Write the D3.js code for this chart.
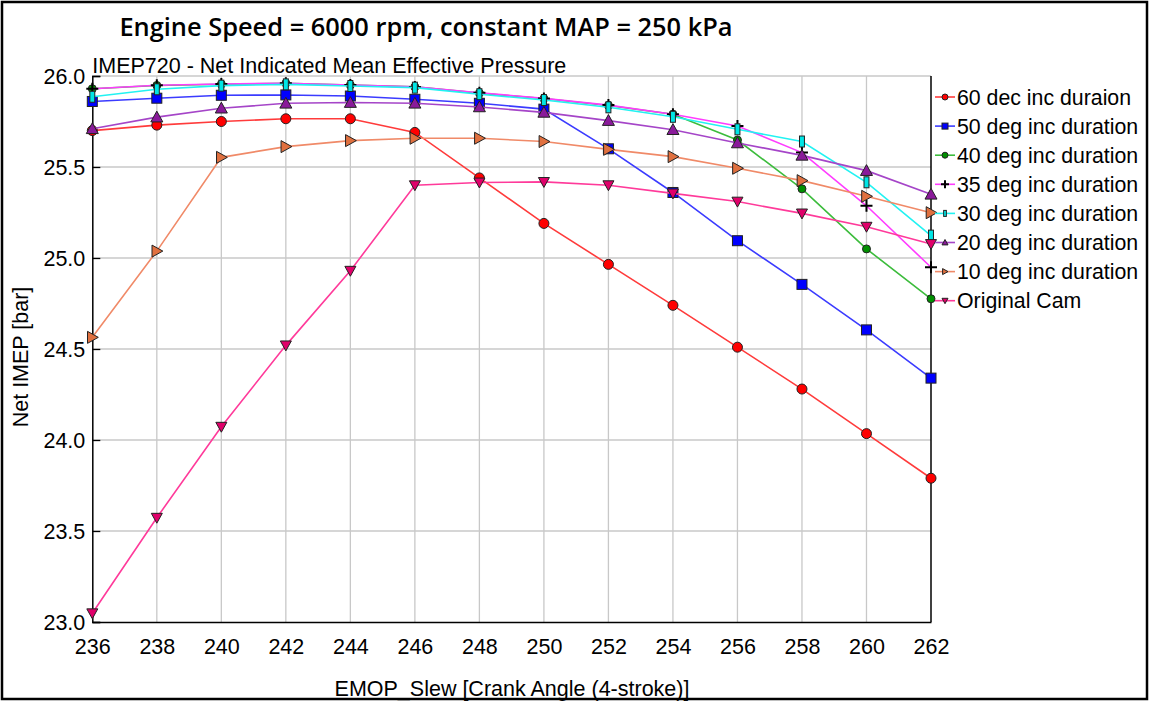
<!DOCTYPE html>
<html>
<head>
<meta charset="utf-8">
<script src="https://cdn.jsdelivr.net/npm/d3@7"></script>
<style>
  body { margin: 0; background: #fff; }
  svg text { font-family: "Liberation Sans", Arial, sans-serif; fill: #000; }
</style>
</head>
<body>
<div id="chart"></div>
<script>
// crank angle values (x)
const angles = [236, 238, 240, 242, 244, 246, 248, 250, 252, 254, 256, 258, 260, 262];

// Net IMEP [bar] per cam setting
const dec60 = [25.70, 25.73, 25.75, 25.765, 25.765, 25.69, 25.44, 25.19, 24.965, 24.74, 24.51, 24.28, 24.035, 23.79];
const deg50 = [25.86, 25.878, 25.894, 25.896, 25.89, 25.872, 25.85, 25.818, 25.60, 25.36, 25.095, 24.855, 24.605, 24.34];
const deg40 = [25.93, 25.948, 25.955, 25.96, 25.95, 25.94, 25.906, 25.876, 25.838, 25.79, 25.648, 25.38, 25.05, 24.776];
const deg35 = [25.93, 25.949, 25.956, 25.96, 25.95, 25.94, 25.908, 25.877, 25.84, 25.79, 25.725, 25.579, 25.287, 24.949];
const deg30 = [25.886, 25.927, 25.947, 25.954, 25.945, 25.936, 25.90, 25.868, 25.828, 25.776, 25.707, 25.64, 25.416, 25.123];
const deg20 = [25.71, 25.774, 25.823, 25.85, 25.854, 25.85, 25.83, 25.80, 25.755, 25.705, 25.632, 25.564, 25.48, 25.35];
const deg10 = [24.564, 25.038, 25.553, 25.612, 25.645, 25.658, 25.658, 25.64, 25.597, 25.557, 25.493, 25.425, 25.339, 25.249];
const originalCam = [23.048, 23.573, 24.073, 24.52, 24.93, 25.40, 25.415, 25.418, 25.40, 25.355, 25.31, 25.245, 25.172, 25.077];

const seriesNames = ["60 dec inc duraion", "50 deg inc duration", "40 deg inc duration", "35 deg inc duration",
  "30 deg inc duration", "20 deg inc duration", "10 deg inc duration", "Original Cam"];

const xTicks = [236, 238, 240, 242, 244, 246, 248, 250, 252, 254, 256, 258, 260, 262];
const yTicks = [23.0, 23.5, 24.0, 24.5, 25.0, 25.5, 26.0];

const W = 1150, H = 702;
const plot = { left: 92.3, right: 931, top: 76, bottom: 622 };

const svg = d3.select("#chart").append("svg")
  .attr("width", W).attr("height", H);

// outer frame
svg.append("rect")
  .attr("x", 2).attr("y", 2).attr("width", W - 5).attr("height", H - 5)
  .attr("fill", "#fff").attr("stroke", "#000").attr("stroke-width", 2.5);

const x = d3.scaleLinear().domain([236, 262]).range([plot.left, plot.right]);
const y = d3.scaleLinear().domain([23, 26]).range([plot.bottom, plot.top]);

// grid
svg.append("g").selectAll("line").data(xTicks.slice(1, -1)).join("line")
  .attr("x1", d => x(d)).attr("x2", d => x(d))
  .attr("y1", plot.top).attr("y2", plot.bottom)
  .attr("stroke", "#c8c8c8").attr("stroke-width", 1.3);
svg.append("g").selectAll("line").data(yTicks.slice(1)).join("line")
  .attr("x1", plot.left).attr("x2", plot.right)
  .attr("y1", d => y(d)).attr("y2", d => y(d))
  .attr("stroke", "#c8c8c8").attr("stroke-width", 1.3);

// axes
const xAxis = svg.append("g")
  .attr("transform", `translate(0,${plot.bottom})`)
  .call(d3.axisBottom(x).tickValues(xTicks).tickSize(0).tickPadding(17).tickFormat(d3.format("d")));
const yAxis = svg.append("g")
  .attr("transform", `translate(${plot.left},0)`)
  .call(d3.axisLeft(y).tickValues(yTicks).tickSize(-8).tickPadding(7).tickFormat(d3.format(".1f")));
[xAxis, yAxis].forEach(a => {
  a.select(".domain").attr("stroke", "#000").attr("stroke-width", 1.5);
  a.selectAll(".tick line").attr("stroke", "#000").attr("stroke-width", 1.3);
  a.selectAll(".tick text").attr("font-size", 21.5).attr("font-family", "Liberation Sans, Arial, sans-serif");
});
yAxis.selectAll(".tick text").attr("dy", "0.36em");

// right border
svg.append("line")
  .attr("x1", plot.right).attr("x2", plot.right)
  .attr("y1", plot.top).attr("y2", plot.bottom)
  .attr("stroke", "#000").attr("stroke-width", 1.5);

// marker shapes
const shapes = {
  circle: (g, r) => g.append("circle").attr("r", r),
  square: (g, r) => g.append("rect").attr("x", -r).attr("y", -r).attr("width", 2 * r).attr("height", 2 * r),
  thinRect: (g, r) => g.append("rect").attr("x", -r * 0.45).attr("y", -r).attr("width", r * 0.9).attr("height", 2 * r),
  triUp: (g, r) => g.append("path").attr("d", `M0,${-r}L${r},${r * 0.8}L${-r},${r * 0.8}Z`),
  triDown: (g, r) => g.append("path").attr("d", `M0,${r}L${r},${-r * 0.8}L${-r},${-r * 0.8}Z`),
  triRight: (g, r) => g.append("path").attr("d", `M${r},0L${-r * 0.8},${r}L${-r * 0.8},${-r}Z`),
  plus: (g, r) => g.append("path").attr("d", `M${-r},0H${r}M0,${-r}V${r}`)
};

const series = [
  { name: seriesNames[0], values: dec60, line: "#ff3b3b", fill: "#ff0000", shape: "circle", r: 5 },
  { name: seriesNames[1], values: deg50, line: "#3b3bff", fill: "#0000ff", shape: "square", r: 5 },
  { name: seriesNames[2], values: deg40, line: "#3cbc3c", fill: "#009000", shape: "circle", r: 4 },
  { name: seriesNames[3], values: deg35, line: "#ff3cff", fill: "#000", shape: "plus", r: 6 },
  { name: seriesNames[4], values: deg30, line: "#22f2f2", fill: "#00e5e5", shape: "thinRect", r: 5.5 },
  { name: seriesNames[5], values: deg20, line: "#a545c8", fill: "#8a1a9a", shape: "triUp", r: 6 },
  { name: seriesNames[6], values: deg10, line: "#f08a68", fill: "#e0703f", shape: "triRight", r: 6 },
  { name: seriesNames[7], values: originalCam, line: "#ff3a9a", fill: "#e0006a", shape: "triDown", r: 5.5 }
];

const lineGen = d3.line().x(d => x(d[0])).y(d => y(d[1]));

function drawMarker(g, s, r) {
  const m = shapes[s.shape](g, r);
  if (s.shape === "plus") {
    m.attr("fill", "none").attr("stroke", "#000").attr("stroke-width", 2);
  } else {
    m.attr("fill", s.fill).attr("stroke", "#222").attr("stroke-width", 1);
  }
}

series.forEach(s => {
  const pts = angles.map((a, i) => [a, s.values[i]]);
  svg.append("path")
    .datum(pts)
    .attr("d", lineGen)
    .attr("fill", "none")
    .attr("stroke", s.line)
    .attr("stroke-width", 1.6);
  pts.forEach(p => {
    const g = svg.append("g").attr("transform", `translate(${x(p[0])},${y(p[1])})`);
    drawMarker(g, s, s.r);
  });
});

// legend
const legend = svg.append("g").attr("transform", "translate(935,97)");
series.forEach((s, i) => {
  const row = legend.append("g").attr("transform", `translate(0,${i * 29.1})`);
  row.append("line").attr("x1", 0).attr("x2", 20).attr("stroke", s.line).attr("stroke-width", 1.6);
  const g = row.append("g").attr("transform", "translate(10,0)");
  drawMarker(g, s, s.shape === "plus" ? 4 : 3);
  row.append("text").attr("x", 22).attr("dy", "0.36em").attr("font-size", 21.3).text(s.name);
});

// titles
svg.append("text")
  .attr("x", 426).attr("y", 36)
  .attr("text-anchor", "middle")
  .style("font-family", "'Open Sans', sans-serif")
  .attr("font-weight", 600)
  .attr("font-size", 25.4)
  .text("Engine Speed = 6000 rpm, constant MAP = 250 kPa");

svg.append("text")
  .attr("x", plot.left).attr("y", 73)
  .attr("font-size", 21.5)
  .text("IMEP720 - Net Indicated Mean Effective Pressure");

svg.append("text")
  .attr("transform", `translate(28,${(plot.top + plot.bottom) / 2 + 8}) rotate(-90)`)
  .attr("text-anchor", "middle")
  .attr("font-size", 21.5)
  .text("Net IMEP [bar]");

svg.append("text")
  .attr("x", 512).attr("y", 696)
  .attr("text-anchor", "middle")
  .attr("font-size", 21.5)
  .text("EMOP_Slew [Crank Angle (4-stroke)]");
</script>
</body>
</html>
